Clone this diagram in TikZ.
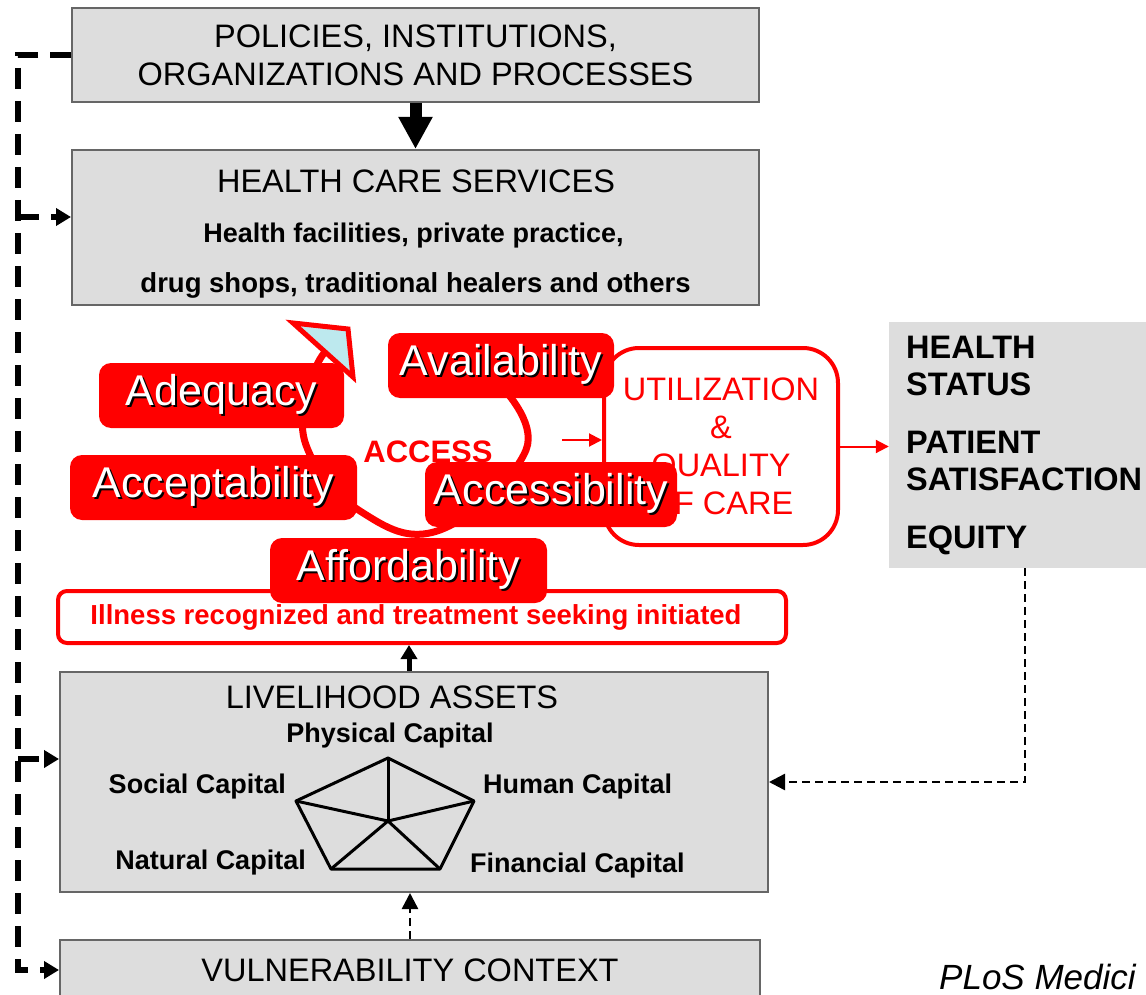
\documentclass[tikz,border=0pt]{standalone}
\usepackage{fontspec}
\setmainfont{Liberation Sans}
\usetikzlibrary{arrows.meta,positioning,calc}
\definecolor{boxgray}{RGB}{221,221,221}
\definecolor{tipfill}{RGB}{189,233,238}
\newcommand{\shadowed}[1]{\makebox[0pt][l]{\hspace{2pt}\raisebox{-2pt}{\textcolor{black}{#1}}}\textcolor{white}{#1}}
\tikzset{
      graybox/.style   = {draw=black!60, line width=2pt, fill=boxgray, inner sep=0pt},
      title/.style     = {font=\fontsize{32.5}{38}\selectfont},
      redtag/.style    = {fill=red, rounded corners=12pt, inner sep=0pt, minimum height=65pt, font=\fontsize{43}{43}\selectfont},
      redframe/.style  = {draw=red, line width=4pt, fill=white, inner sep=0pt, text=red},
      capital/.style   = {inner sep=0pt, font=\bfseries\fontsize{27}{27}\selectfont},
      loopdash/.style  = {black, line width=5.5pt, dash pattern=on 21pt off 12pt},
      loopin/.style    = {loopdash, -{Triangle[length=15pt,width=17pt]}},
      feedback/.style  = {black, line width=2.5pt, dash pattern=on 8pt off 5pt, -{Triangle[length=16pt,width=16pt]}},
      redarrow/.style  = {red, line width=2pt, -{Triangle[length=13pt,width=13pt]}},
    }

\begin{document}
\begin{tikzpicture}[x=1pt, y=-1pt]
    \useasboundingbox (0,0) rectangle (1146,995);

    % grey boxes
    \node[graybox, title, minimum width=687pt, minimum height=94pt, align=center] (pol) at (415.5,55)
          {POLICIES, INSTITUTIONS,\\ORGANIZATIONS AND PROCESSES};
    \node[graybox, minimum width=687pt, minimum height=155pt] (hcs) at (415.5,227.5) {};
    \node[title] (hcstitle) at (416,181) {HEALTH CARE SERVICES};
    \node[font=\bfseries\fontsize{27}{27}\selectfont] (hcsline1) at (413.5,236) {Health facilities, private practice,};
    \node[font=\bfseries\fontsize{27.5}{27.5}\selectfont] (hcsline2) at (415.5,285) {drug shops, traditional healers and others};

    \node[graybox, minimum width=708pt, minimum height=220pt] (liv) at (414,782) {};
    \node[title] (livtitle) at (392,697) {LIVELIHOOD ASSETS};
    \node[graybox, title, minimum width=700pt, minimum height=60pt] (vul) at (410,970) {VULNERABILITY CONTEXT};

    \node[fill=boxgray, minimum width=272pt, minimum height=246pt] (hs) at (1025,445) {};
    \node[anchor=west, inner sep=0pt, align=left, font=\bfseries\fontsize{32.5}{37}\selectfont]
          (hstext) at (906,446) {HEALTH\\STATUS\\[21pt]PATIENT\\SATISFACTION\\[21pt]EQUITY};

    % pentagon of capitals
    \coordinate (pc) at (388,821);
    \coordinate (p1) at (388,758);
    \coordinate (p2) at (474,801);
    \coordinate (p3) at (440,869);
    \coordinate (p4) at (331,869);
    \coordinate (p5) at (296,801);
    \draw[line width=3pt, line join=round] (p1) -- (p2) -- (p3) -- (p4) -- (p5) -- cycle;
    \foreach \v in {1,...,5}
        \draw[line width=3pt] (pc) -- (p\v);
    \node[capital] (physical) at (390,736) {Physical Capital};
    \node[capital, anchor=east] (social) at (286,787) {Social Capital};
    \node[capital, anchor=west] (human) at (483,787) {Human Capital};
    \node[capital, anchor=east] (natural) at (306,863) {Natural Capital};
    \node[capital, anchor=west] (financial) at (470,866) {Financial Capital};

    % red part
    \node[redframe, rounded corners=35pt, minimum width=234pt, minimum height=197pt, align=center,
          font=\fontsize{32.5}{38}\selectfont] (util) at (721,446.5) {UTILIZATION\\\&\\QUALITY\\OF CARE};
    \node[redframe, rounded corners=9pt, minimum width=728pt, minimum height=52pt,
          font=\bfseries\fontsize{27.5}{27.5}\selectfont] (ill) at (422,617)
          {\hspace{-12pt}Illness recognized and treatment seeking initiated};
    \node[text=red, font=\bfseries\fontsize{31}{31}\selectfont] (access) at (428,452) {ACCESS};

    \draw[red, line width=7pt] plot[smooth, tension=0.7]
        coordinates {(500,385) (526,450) (440,530) (360,511) (306,445) (312,380) (325,352)};
    \filldraw[draw=red, fill=tipfill, line width=5pt, line join=miter]
        (293,323) -- (348,329) -- (353,377) -- cycle;

    \coordinate (accin) at (562,440);
    \draw[redarrow] (accin) -- (accin -| util.west);
    \draw[redarrow] (util.east) -- (util.east -| hs.west);

    \node[redtag, minimum width=245pt] (adequacy) at (221.5,395.5) {\shadowed{Adequacy}};
    \node[redtag, minimum width=226pt] (availability) at (501,365.5) {\shadowed{Availability}};
    \node[redtag, minimum width=287pt] (acceptability) at (213.5,487.5) {\shadowed{Acceptability}};
    \node[redtag, minimum width=252pt] (accessibility) at (551,494.5) {\shadowed{Accessibility}};
    \node[redtag, minimum width=277pt] (affordability) at (408.5,570.5) {\shadowed{Affordability}};

    % connectors
    \draw[line width=12pt, -{Triangle[length=32pt,width=32pt]}] (pol) -- (hcs);
    \coordinate (ux) at (409,0);
    \draw[line width=5pt, -{Triangle[length=14pt,width=16pt]}] (liv.north -| ux) -- (ill.south -| ux);
    \draw[feedback] (vul.north) -- (vul.north |- liv.south);
    \draw[feedback] (hs.south) -- (hs.south |- liv.east) -- (liv.east);

    \coordinate (lx) at (18,0);
    \coordinate (jh) at (18,217);
    \coordinate (jl) at (18,759);
    \draw[loopin] (pol.west) -- (pol.west -| lx) -- (vul.west -| lx) -- (vul.west);
    \draw[loopin] (jh) -- (jh -| hcs.west);
    \draw[loopin] (jl) -- (jl -| liv.west);

    \node[anchor=west, inner sep=0pt, font=\itshape\fontsize{35}{35}\selectfont] (plos) at (939,977) {PLoS Medici};
\end{tikzpicture}
\end{document}
